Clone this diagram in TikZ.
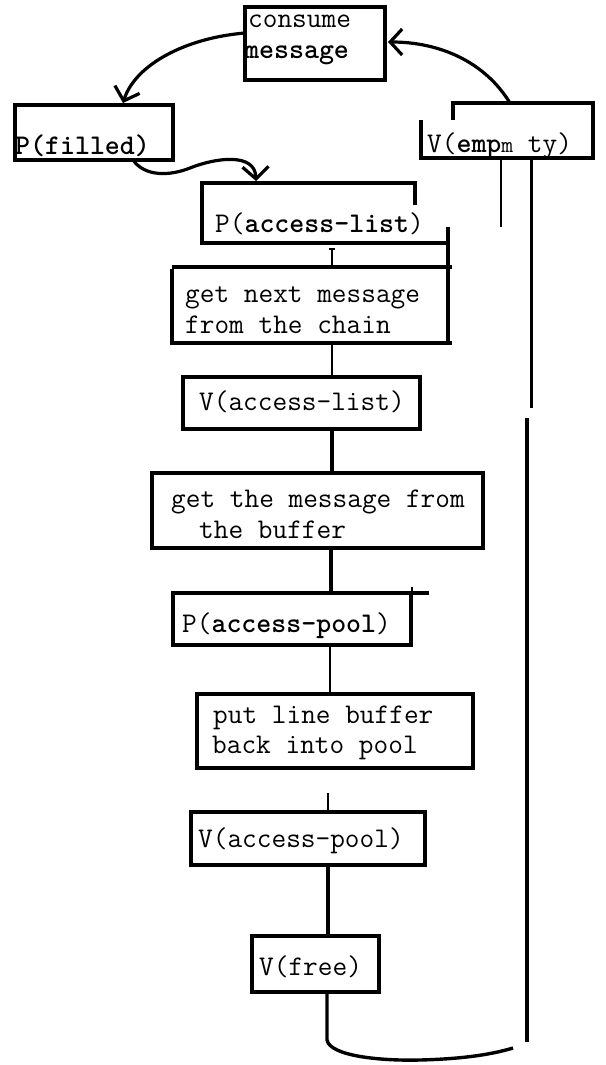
\documentclass[tikz,border=0pt]{standalone}
\usetikzlibrary{arrows.meta,calc}
\newcommand\boxfont{\ttfamily\fontsize{28.5}{31}\selectfont}
\tikzset{
  box/.style={draw, line width=3.4pt, inner sep=0pt, outer sep=0pt, anchor=north west},
  frame/.style={inner sep=0pt, outer sep=0pt, anchor=north west},
  edge/.style={line width=3.4pt, line cap=rect},
  txt/.style={font=\boxfont, anchor=base west, inner sep=0pt},
  hair/.style={line width=1.2pt},
  link/.style={line width=3.4pt},
  rail/.style={line width=3pt},
  flow/.style={line width=3.2pt, -{Straight Barb[length=12pt, width=26pt]}}
}
\begin{document}
\begin{tikzpicture}[x=1pt, y=-1pt]
\useasboundingbox (0,0) rectangle (605,1065);

% ---- boxes of the consumer loop ----
\node[box, minimum width=140pt, minimum height=73pt] (cm) at (245,7) {};
\node[txt] (cm1) at (248,28) {consume};
\node[txt] (cm2) at (244,59) {\bfseries message};

\node[box, minimum width=158pt, minimum height=55pt] (pf) at (15,105) {};
\node[txt] (pft) at (15,154) {\bfseries P(filled)};

% V(empty): frame with a broken upper-left corner
\node[frame, minimum width=172pt, minimum height=55pt] (ve) at (421,103) {};
\draw[edge] (453,118) -- (453,103) -- (593,103) -- (593,158) -- (421,158) -- (421,122);
\node[txt] (vet) at (427,152) {V(\textbf{emp}{\fontsize{23}{23}\selectfont m} ty)};

% P(access-list): open right side, bottom runs on into the next box
\node[frame, minimum width=213pt, minimum height=60pt] (pal) at (202,183) {};
\draw[edge] (415,203) -- (415,183) -- (202,183) -- (202,243) -- (448,243);
\draw[edge] (448,229) -- (448,343);
\node[txt] (palt) at (215,232) {P(\textbf{access-list})};

\node[frame, minimum width=276pt, minimum height=76pt] (gnm) at (172,267) {};
\draw[edge] (174,267) -- (450,267);
\draw[edge] (172,271) -- (172,343) -- (450,343);
\node[txt] (gnm1) at (185,302) {get next message};
\node[txt] (gnm2) at (185,333) {from the chain};

\node[box, minimum width=237pt, minimum height=52pt] (val) at (183,377) {};
\node[txt] (valt) at (199,410) {V(access-list)};

\node[box, minimum width=331pt, minimum height=75pt] (gmb) at (152,473) {};
\node[txt] (gmb1) at (171,507) {get the message from};
\node[txt] (gmb2) at (199,538) {the buffer};

\node[box, minimum width=238pt, minimum height=52pt] (pap) at (173,593) {};
\draw[edge] (411,593) -- (427,593);
\draw[line width=2pt] (412,587) -- (412,596);
\node[txt] (papt) at (182,632) {P(\textbf{access-pool})};

\node[box, minimum width=276pt, minimum height=74pt] (plb) at (197,694) {};
\node[txt] (plb1) at (213,723) {put line buffer};
\node[txt] (plb2) at (212,753) {back into pool};

\node[box, minimum width=234pt, minimum height=53pt] (vap) at (191,812) {};
\node[txt] (vapt) at (198,847) {V(access-pool)};

\node[box, minimum width=127pt, minimum height=56pt] (vf) at (252,936) {};
\node[txt] (vft) at (259,975) {V(free)};

% ---- column positions of the vertical links ----
\coordinate (k1) at (332,0);
\coordinate (k2) at (331,0);
\coordinate (k3) at (330,0);
\coordinate (k4) at (328,0);
\coordinate (k5) at (327,0);
\coordinate (r1) at (501,0);
\coordinate (r2) at (531,0);
\coordinate (tail) at (513,1048);
\coordinate (railtop) at (527,418);

% ---- curved arrows round the top ----
\draw[flow] ($(cm.north west)+(0,26)$) .. controls (185,38) and (135,65) .. ($(pf.north west)+(108,-2)$);
\draw[flow] ($(ve.north west)+(89,0)$) .. controls (485,62) and (440,42) .. ($(cm.north east)+(3,35)$);
\draw[flow] ($(pf.south west)+(118,0)$) .. controls (145,177) and (170,176) .. (190,168)
            .. controls (215,158) and (255,152) .. ($(pal.north west)+(54,-2)$);

% ---- straight links down the chain ----
\draw[hair] ($(k1 |- pal.south)+(0,6)$) -- (k1 |- gnm.north);
\draw[hair] ($(k1 |- pal.south)+(-3,6)$) -- ($(k1 |- pal.south)+(3,6)$);
\draw[line width=1.8pt] (k1 |- gnm.south) -- (k1 |- val.north);
\draw[link] (k1 |- val.south) -- (k1 |- gmb.north);
\draw[line width=3.8pt] (k2 |- gmb.south) -- (k2 |- pap.north);
\draw[line width=2.8pt] (k3 |- pap.south) -- (k3 |- plb.north);
\draw[hair] ($(k4 |- plb.south)+(0,25)$) -- (k4 |- vap.north);
\draw[link] (k4 |- vap.south) -- (k4 |- vf.north);
\draw[link] (k5 |- vf.south) -- ++(0,48)
  .. controls (330,1056) and (380,1061) .. (420,1060)
  .. controls (460,1059) and (490,1055) .. (tail);

% ---- rails down the right side ----
\draw[line width=2.4pt] (r1 |- ve.south) -- ++(0,69);
\draw[rail] (r2 |- ve.south) -- ++(0,250);
\draw[link] (railtop) -- ++(0,624);
\end{tikzpicture}
\end{document}
